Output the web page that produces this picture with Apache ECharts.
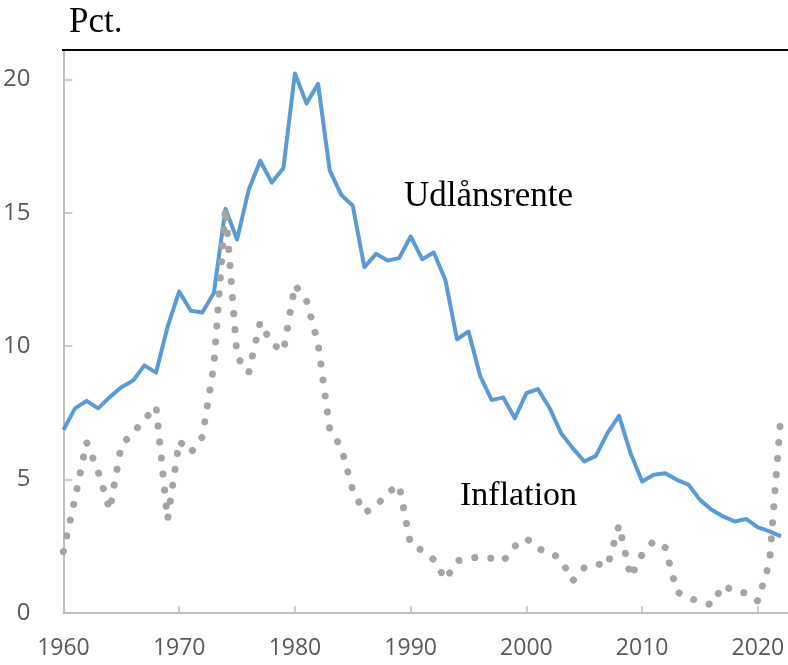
<!DOCTYPE html>
<html>
<head>
<meta charset="utf-8">
<script src="https://cdn.jsdelivr.net/npm/echarts@6/dist/echarts.min.js"></script>
<style>
  html, body { margin: 0; padding: 0; background: #fff; }
  #rente-chart { width: 788px; height: 665px; }
</style>
</head>
<body>
<div id="rente-chart"></div>
<script>
// years 1960-2022
const years = [
  1960, 1961, 1962, 1963, 1964, 1965, 1966, 1967, 1968, 1969,
  1970, 1971, 1972, 1973, 1974, 1975, 1976, 1977, 1978, 1979,
  1980, 1981, 1982, 1983, 1984, 1985, 1986, 1987, 1988, 1989,
  1990, 1991, 1992, 1993, 1994, 1995, 1996, 1997, 1998, 1999,
  2000, 2001, 2002, 2003, 2004, 2005, 2006, 2007, 2008, 2009,
  2010, 2011, 2012, 2013, 2014, 2015, 2016, 2017, 2018, 2019,
  2020, 2021, 2022
];

// Udlånsrente, pct.
const udlaansrente = [
  6.86, 7.67, 7.95, 7.67, 8.09, 8.46, 8.70, 9.28, 9.01, 10.73,
  12.05, 11.33, 11.26, 12.0, 15.15, 14.0, 15.85, 16.95, 16.13, 16.67,
  20.22, 19.1, 19.83, 16.6, 15.67, 15.26, 12.96, 13.46, 13.21, 13.3,
  14.11, 13.26, 13.51, 12.48, 10.26, 10.55, 8.89, 7.98, 8.08, 7.30,
  8.24, 8.39, 7.68, 6.74, 6.18, 5.68, 5.89, 6.74, 7.39, 5.99,
  4.93, 5.18, 5.24, 4.99, 4.81, 4.24, 3.87, 3.62, 3.43, 3.52,
  3.21, 3.06, 2.87
];

// Inflation, pct.
const inflation = [
  2.3, 4.3, 6.4, 5.3, 3.85, 6.3, 6.75, 7.25, 7.75, 3.5,
  6.45, 6.0, 6.6, 9.3, 15.2, 9.6, 9.0, 10.9, 10.1, 9.8,
  12.3, 11.7, 10.1, 6.9, 6.2, 4.6, 3.75, 4.0, 4.5, 4.8,
  2.55, 2.35, 2.0, 1.25, 1.95, 2.05, 2.1, 2.05, 1.95, 2.5,
  2.8, 2.4, 2.3, 2.0, 1.2, 1.7, 1.85, 1.75, 3.3, 1.35,
  2.2, 2.7, 2.45, 0.8, 0.55, 0.45, 0.3, 1.05, 0.8, 0.75,
  0.45, 1.9, 7.5
];

const xTicks = [1960, 1970, 1980, 1990, 2000, 2010, 2020];
const yTicks = [0, 5, 10, 15, 20];

function pairs(vals) {
  return years.map((y, i) => [y, vals[i]]);
}

const chart = echarts.init(document.getElementById('rente-chart'));
const axisGrey = '#bfbfbf';
const labelGrey = '#595959';

const option = {
  animation: false,
  grid: { left: 63, right: 0, top: 50, bottom: 52 },
  xAxis: {
    type: 'value',
    min: 1960,
    max: 2022.6,
    splitLine: { show: false },
    axisLine: { show: true, lineStyle: { color: axisGrey, width: 2 } },
    axisTick: { show: true, inside: true, length: 7, customValues: xTicks, lineStyle: { color: axisGrey, width: 1.5 } },
    axisLabel: {
      customValues: xTicks,
      margin: 24,
      color: labelGrey,
      fontSize: 23,
      fontFamily: 'Open Sans',
      formatter: v => String(v)
    }
  },
  yAxis: {
    type: 'value',
    min: 0,
    max: 21.1,
    splitLine: { show: false },
    axisLine: { show: true, lineStyle: { color: axisGrey, width: 2 } },
    axisTick: { show: true, inside: true, length: 9, customValues: yTicks, lineStyle: { color: axisGrey, width: 1.5 } },
    axisLabel: {
      customValues: yTicks,
      margin: 33,
      color: labelGrey,
      fontSize: 24,
      fontFamily: 'Open Sans'
    }
  },
  graphic: [
    { type: 'line', shape: { x1: 62, y1: 50, x2: 788, y2: 50 }, style: { stroke: '#000', lineWidth: 2 }, z: 100 },
    { type: 'text', x: 69, y: 23, style: { text: 'Pct.', font: '35px "Liberation Serif"', fill: '#000', verticalAlign: 'middle' } },
    { type: 'text', x: 404, y: 197, style: { text: 'Udlånsrente', font: '35px "Liberation Serif"', fill: '#000', verticalAlign: 'middle' } },
    { type: 'text', x: 460, y: 496, style: { text: 'Inflation', font: '34px "Liberation Serif"', fill: '#000', verticalAlign: 'middle' } }
  ],
  series: [
    {
      name: 'Udlånsrente',
      type: 'line',
      symbol: 'none',
      data: pairs(udlaansrente),
      lineStyle: { color: '#5b9bd5', width: 4, join: 'round' }
    },
    {
      name: 'Inflation',
      type: 'line',
      symbol: 'none',
      data: pairs(inflation),
      lineStyle: { color: '#a5a5a5', width: 7, type: [0.1, 16], cap: 'round' }
    }
  ]
};

chart.setOption(option);
</script>
</body>
</html>
